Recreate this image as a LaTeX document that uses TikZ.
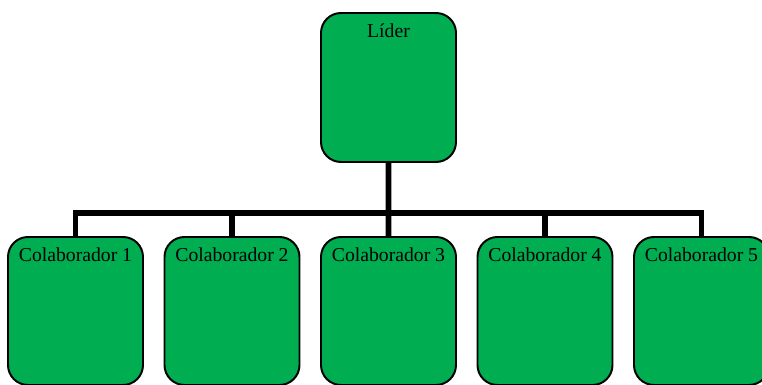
\documentclass[tikz,border=0pt]{standalone}
\usepackage{fontspec}
\setmainfont{Liberation Serif}
\usetikzlibrary{positioning}
\definecolor{boxgreen}{RGB}{0,173,80}

\begin{document}
\begin{tikzpicture}[font=\fontsize{14}{16}\selectfont,
    box/.style={rectangle,rounded corners=0.5cm,draw=black,line width=1.4pt,fill=boxgreen,
                minimum width=3.375cm,minimum height=3.7cm,inner sep=0pt,outer sep=0pt},
    boxtext/.style={anchor=base,inner sep=0pt},
    bus/.style={line width=4.25pt}]
    \useasboundingbox (0,0) rectangle (19.05,9.625);

    % leader
      \node[box,minimum height=3.725cm,below] (lider) at (9.7125,9.3) {};
      \node[boxtext,below=0.625cm of lider.north,anchor=base] (tlider) {Líder};

    % collaborators
      \foreach \i in {1,...,5} {
        \node[box,above] (c\i) at ({1.8875+(\i-1)*3.9125},0) {};
        \node[boxtext,below=0.625cm of c\i.north,anchor=base] (tc\i) {Colaborador \i};
      }

    % connections
      \draw[bus] (c1.north) -- ++(0,0.6) -| (c5.north);
      \draw[bus] (lider.south) -- (c3.north);
      \draw[bus] (c2.north) -- ++(0,0.6);
      \draw[bus] (c4.north) -- ++(0,0.6);

\end{tikzpicture}
\end{document}
